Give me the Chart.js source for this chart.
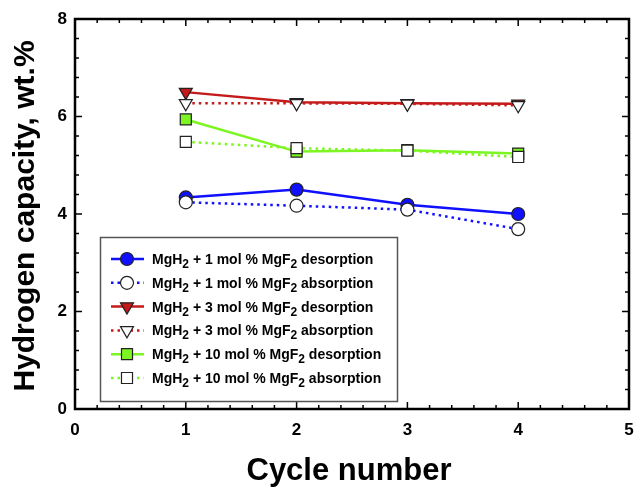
<!DOCTYPE html>
<html>
<head>
<meta charset="utf-8">
<script src="https://cdn.jsdelivr.net/npm/chart.js@4.4.1/dist/chart.umd.min.js"></script>
<style>
  html, body { margin: 0; padding: 0; background: #fff; }
  canvas { display: block; }
</style>
</head>
<body>
<canvas id="capacityChart" width="638" height="487"></canvas>
<script>
const cycles = [1, 2, 3, 4];

const des1 = [4.34, 4.50, 4.19, 4.00];
const abs1 = [4.24, 4.17, 4.09, 3.69];
const des3 = [6.50, 6.29, 6.27, 6.26];
const abs3 = [6.27, 6.27, 6.26, 6.23];
const des10 = [5.94, 5.28, 5.31, 5.24];
const abs10 = [5.48, 5.35, 5.30, 5.17];

const xTicks = [0, 1, 2, 3, 4, 5];
const yTicks = [0, 2, 4, 6, 8];

const BLUE = '#1010ff';
const RED = '#c41a1a';
const GREEN = '#7cf522';
const EDGE = '#222';

const legendItems = [
  { pct: '1', kind: 'desorption' },
  { pct: '1', kind: 'absorption' },
  { pct: '3', kind: 'desorption' },
  { pct: '3', kind: 'absorption' },
  { pct: '10', kind: 'desorption' },
  { pct: '10', kind: 'absorption' }
];

function toPoints(values) {
  return values.map((v, i) => ({ x: cycles[i], y: v }));
}

function makeSeries(values, color, opts) {
  const dotted = opts.dotted;
  return {
    data: toPoints(values),
    borderColor: color,
    borderWidth: 2.5,
    borderDash: dotted ? [2.5, 4] : [],
    pointStyle: opts.style,
    pointRotation: opts.rotation || 0,
    pointRadius: opts.radius,
    pointBorderColor: EDGE,
    pointBorderWidth: 1.2,
    pointBackgroundColor: opts.fill,
    tension: 0,
    order: opts.order
  };
}

const datasets = [
  makeSeries(des1, BLUE, { style: 'circle', radius: 6.5, fill: BLUE, order: 6 }),
  makeSeries(abs1, BLUE, { style: 'circle', radius: 6.5, fill: '#fff', dotted: true, order: 5 }),
  makeSeries(des3, RED, { style: 'triangle', rotation: 180, radius: 7.5, fill: RED, order: 4 }),
  makeSeries(abs3, RED, { style: 'triangle', rotation: 180, radius: 7.5, fill: '#fff', dotted: true, order: 3 }),
  makeSeries(des10, GREEN, { style: 'rect', radius: 7.8, fill: GREEN, order: 2 }),
  makeSeries(abs10, GREEN, { style: 'rect', radius: 7.8, fill: '#fff', dotted: true, order: 1 })
];

// frame, inward ticks (all four sides), tick labels and axis titles
const framePlugin = {
  id: 'frame',
  afterDatasetsDraw(chart) {
    const { ctx, chartArea: a, scales: { x, y } } = chart;
    ctx.save();
    ctx.strokeStyle = '#000';
    ctx.lineWidth = 1.5;
    ctx.beginPath();
    for (let v = 0; v <= 5.0001; v += 0.2) {
      const px = x.getPixelForValue(v);
      const major = Math.abs(v - Math.round(v)) < 1e-6;
      const len = major ? 7 : 4;
      ctx.moveTo(px, a.bottom); ctx.lineTo(px, a.bottom - len);
      ctx.moveTo(px, a.top); ctx.lineTo(px, a.top + len);
    }
    for (let v = 0; v <= 8.0001; v += 0.4) {
      const py = y.getPixelForValue(v);
      const major = Math.abs(v / 2 - Math.round(v / 2)) < 1e-6;
      const len = major ? 7 : 4;
      ctx.moveTo(a.left, py); ctx.lineTo(a.left + len, py);
      ctx.moveTo(a.right, py); ctx.lineTo(a.right - len, py);
    }
    ctx.stroke();

    ctx.lineWidth = 2.5;
    ctx.strokeRect(a.left, a.top, a.right - a.left, a.bottom - a.top);

    ctx.fillStyle = '#000';
    ctx.font = 'bold 17px "Liberation Sans", Arial, sans-serif';
    ctx.textAlign = 'center';
    ctx.textBaseline = 'middle';
    xTicks.forEach(t => ctx.fillText(String(t), x.getPixelForValue(t), 430));
    ctx.textAlign = 'right';
    yTicks.forEach(t => ctx.fillText(String(t), 67, y.getPixelForValue(t)));

    ctx.textAlign = 'center';
    ctx.textBaseline = 'alphabetic';
    ctx.font = 'bold 31px "Liberation Sans", Arial, sans-serif';
    ctx.fillText('Cycle number', 349, 480);

    ctx.save();
    ctx.translate(34, 216);
    ctx.rotate(-Math.PI / 2);
    ctx.font = 'bold 30px "Liberation Sans", Arial, sans-serif';
    ctx.fillText('Hydrogen capacity, wt.%', 0, 0);
    ctx.restore();
    ctx.restore();
  }
};

// legend box inside the plot, with subscripts in the labels
const legendPlugin = {
  id: 'boxLegend',
  afterDraw(chart) {
    const ctx = chart.ctx;
    const box = { left: 100.5, top: 237.5, right: 397.5, bottom: 401.5 };
    ctx.save();
    ctx.fillStyle = '#fff';
    ctx.fillRect(box.left, box.top, box.right - box.left, box.bottom - box.top);
    ctx.strokeStyle = '#555';
    ctx.lineWidth = 1.5;
    ctx.strokeRect(box.left, box.top, box.right - box.left, box.bottom - box.top);

    legendItems.forEach((item, i) => {
      const ds = chart.data.datasets[i];
      const cy = 259 + i * 23.8;
      ctx.save();
      ctx.strokeStyle = ds.borderColor;
      ctx.lineWidth = 2.5;
      ctx.setLineDash(ds.borderDash);
      ctx.beginPath();
      ctx.moveTo(111, cy);
      ctx.lineTo(144, cy);
      ctx.stroke();
      ctx.setLineDash([]);
      ctx.fillStyle = ds.pointBackgroundColor;
      ctx.strokeStyle = EDGE;
      ctx.lineWidth = 1.2;
      Chart.helpers.drawPoint(ctx, {
        pointStyle: ds.pointStyle,
        rotation: ds.pointRotation,
        radius: ds.pointRadius,
        borderWidth: 1.2
      }, 127, cy);
      ctx.restore();

      const parts = [
        ['MgH', false], ['2', true],
        [' + ' + item.pct + ' mol % MgF', false], ['2', true],
        [' ' + item.kind, false]
      ];
      let tx = 152;
      ctx.fillStyle = '#000';
      ctx.textAlign = 'left';
      ctx.textBaseline = 'alphabetic';
      parts.forEach(([s, sub]) => {
        ctx.font = sub ? 'bold 12px "Liberation Sans", Arial, sans-serif'
                       : 'bold 14px "Liberation Sans", Arial, sans-serif';
        ctx.fillText(s, tx, cy + 5 + (sub ? 4 : 0));
        tx += ctx.measureText(s).width;
      });
    });
    ctx.restore();
  }
};

new Chart(document.getElementById('capacityChart'), {
  type: 'line',
  data: { datasets },
  options: {
    responsive: false,
    animation: false,
    layout: { padding: { left: 75, right: 4, top: 19, bottom: 78 } },
    plugins: { legend: { display: false }, tooltip: { enabled: false } },
    scales: {
      x: { type: 'linear', min: 0, max: 5, display: false },
      y: { type: 'linear', min: 0, max: 8, display: false }
    }
  },
  plugins: [framePlugin, legendPlugin]
});
</script>
</body>
</html>
